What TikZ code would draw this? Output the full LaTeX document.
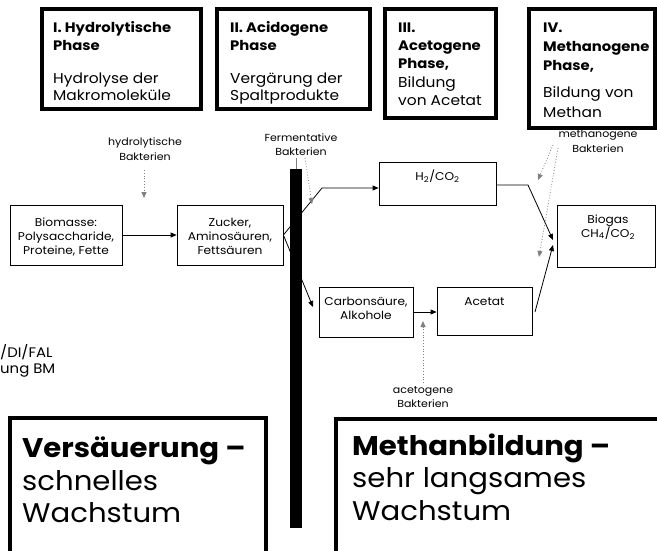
\documentclass[tikz,border=0pt]{standalone}
\usepackage{fontspec}
\setmainfont{Poppins}[FakeStretch=1.08]
\usetikzlibrary{arrows.meta}
\begin{document}
\begin{tikzpicture}[x=1pt,y=-1pt,
  phasebox/.style={draw, line width=4pt, inner sep=0pt},
  thinbox/.style={draw, line width=0.8pt, inner sep=0pt},
  ttl/.style={font=\fontsize{13.7}{16}\selectfont\bfseries, inner sep=0pt, anchor=base west},
  bdy/.style={font=\fontsize{14.3}{16}\selectfont, inner sep=0pt, anchor=base west},
  txt/.style={font=\fontsize{11.3}{13}\selectfont, inner sep=0pt, anchor=base},
  lbl/.style={font=\fontsize{10.2}{12}\selectfont, inner sep=0pt, anchor=base},
  side/.style={font=\fontsize{13.8}{15}\selectfont, inner sep=0pt, anchor=base west},
  bigb/.style={font=\fontsize{27}{30}\selectfont\bfseries, inner sep=0pt, anchor=base west},
  bign/.style={font=\fontsize{27}{30}\selectfont, inner sep=0pt, anchor=base west},
  arr/.style={line width=0.8pt, -{Triangle[length=6pt,width=5pt]}},
  bactarrow/.style={gray, dotted, line width=0.8pt, -{Triangle[length=6pt,width=5pt]}}
]
\clip (0,0) rectangle (657,550);
\fill[white] (0,0) rectangle (657,550);

% phase boxes
\node[phasebox, minimum width=159pt, minimum height=100pt] (p1) at (121.5,59) {};
\node[phasebox, minimum width=153pt, minimum height=100pt] (p2) at (293.5,59) {};
\node[phasebox, minimum width=111pt, minimum height=109pt] (p3) at (440.5,63.5) {};
\node[phasebox, minimum width=126pt, minimum height=119pt] (p4) at (592,68.5) {};

\node[ttl] (p1a) at (53,32) {I. Hydrolytische};
\node[ttl] (p1b) at (53,50) {Phase};
\node[bdy] (p1c) at (53,83) {Hydrolyse der};
\node[bdy] (p1d) at (53,100) {Makromoleküle};

\node[ttl] (p2a) at (230,32) {II. Acidogene};
\node[ttl] (p2b) at (230,50) {Phase};
\node[bdy] (p2c) at (230,83) {Vergärung der};
\node[bdy] (p2d) at (230,100) {Spaltprodukte};

\node[ttl] (p3a) at (398,32) {III.};
\node[ttl] (p3b) at (398,50) {Acetogene};
\node[ttl] (p3c) at (398,68) {Phase,};
\node[bdy] (p3d) at (398,87) {Bildung};
\node[bdy] (p3e) at (398,105) {von Acetat};

\node[ttl] (p4a) at (543,32) {IV.};
\node[ttl] (p4b) at (543,51) {Methanogene};
\node[ttl] (p4c) at (543,70) {Phase,};
\node[bdy] (p4d) at (543,97) {Bildung von};
\node[bdy] (p4e) at (543,117) {Methan};

% process boxes
\node[thinbox, minimum width=112pt, minimum height=60pt] (bio) at (66,235) {};
\node[txt] (bio1) at (66,226) {Biomasse:};
\node[txt] (bio2) at (66,240) {Polysaccharide,};
\node[txt] (bio3) at (66,254) {Proteine, Fette};

\node[thinbox, minimum width=106pt, minimum height=60pt] (zuck) at (230,235) {};
\node[txt] (zu1) at (230,226) {Zucker,};
\node[txt] (zu2) at (230,240) {Aminosäuren,};
\node[txt] (zu3) at (230,254) {Fettsäuren};

\node[thinbox, minimum width=117pt, minimum height=43pt] (h2) at (437.5,183.5) {};
\node[txt] (h2t) at (437.5,180) {H\textsubscript{2}/CO\textsubscript{2}};

\node[thinbox, minimum width=98pt, minimum height=62pt] (biogas) at (606,236) {};
\node[txt] (bg1) at (608,223) {Biogas};
\node[txt] (bg2) at (608,237) {CH\textsubscript{4}/CO\textsubscript{2}};

\node[thinbox, minimum width=94pt, minimum height=50pt] (carb) at (366,312) {};
\node[txt] (ca1) at (366,305) {Carbonsäure,};
\node[txt] (ca2) at (366,319) {Alkohole};

\node[thinbox, minimum width=95pt, minimum height=48pt] (acet) at (484.5,311) {};
\node[txt] (ac1) at (484.5,305) {Acetat};

% bacteria labels
\node[lbl] (hb1) at (145,145) {hydrolytische};
\node[lbl] (hb2) at (145,160) {Bakterien};
\node[lbl] (fb1) at (301,141) {Fermentative};
\node[lbl] (fb2) at (301,155) {Bakterien};
\node[lbl] (mb1) at (598,137) {methanogene};
\node[lbl] (mb2) at (598,152) {Bakterien};
\node[lbl] (ab1) at (423,393) {acetogene};
\node[lbl] (ab2) at (423,407) {Bakterien};

% side notes
\node[side] (s1) at (0,357) {/DI/FAL};
\node[side] (s2) at (0,373) {ung BM};

% connectors
\coordinate (k1) at (322,188);
\coordinate (k2) at (313,307);
\draw[arr] (bio.east) -- (zuck.west);
\draw[arr] (zuck.east) -- (k1) -- (k1 -| h2.west);
\draw[arr] (zuck.east) -- (k2);

% black bar
\node[fill=black, inner sep=0pt, minimum width=12pt, minimum height=359pt] (bar) at (296,348.5) {};
\draw[gray, line width=0.6pt] (bar.north) -- ++(0,-11);

\coordinate (k3) at (528,185);
\coordinate (k4) at (553,240);
\coordinate (k5) at (535,312);
\coordinate (k6) at (553,245);
\draw[arr] (h2.east |- k3) -- (k3) -- (k4);
\draw[arr] (k5) -- (k6);
\draw[arr] (carb.east |- 0,312) -- (acet.west |- 0,312);

% dotted bacteria arrows
\coordinate (d1) at (144,170);
\coordinate (d2) at (144,198);
\draw[bactarrow] (d1) -- (d2);
\coordinate (d3) at (305,158);
\coordinate (d4) at (312,204);
\draw[bactarrow] (d3) -- (d4);
\coordinate (d5) at (423,383);
\coordinate (d6) at (423,321);
\draw[bactarrow] (d5) -- (d6);
\coordinate (d7) at (553,145);
\coordinate (d8) at (538,180);
\coordinate (d9) at (558,148);
\coordinate (d10) at (539,257);
\draw[bactarrow] (d7) -- (d8);
\draw[bactarrow] (d9) -- (d10);

% bottom boxes
\node[phasebox, minimum width=256pt, minimum height=182pt] (v) at (138,509) {};
\node[bigb] (v1) at (22,457) {Versäuerung –};
\node[bign] (v2) at (22,490) {schnelles};
\node[bign] (v3) at (22,522) {Wachstum};

\node[phasebox, minimum width=364pt, minimum height=181pt] (m) at (518,509.5) {};
\node[bigb] (m1) at (352,455) {Methanbildung –};
\node[bign] (m2) at (352,487) {sehr langsames};
\node[bign] (m3) at (352,520) {Wachstum};
\end{tikzpicture}
\end{document}
